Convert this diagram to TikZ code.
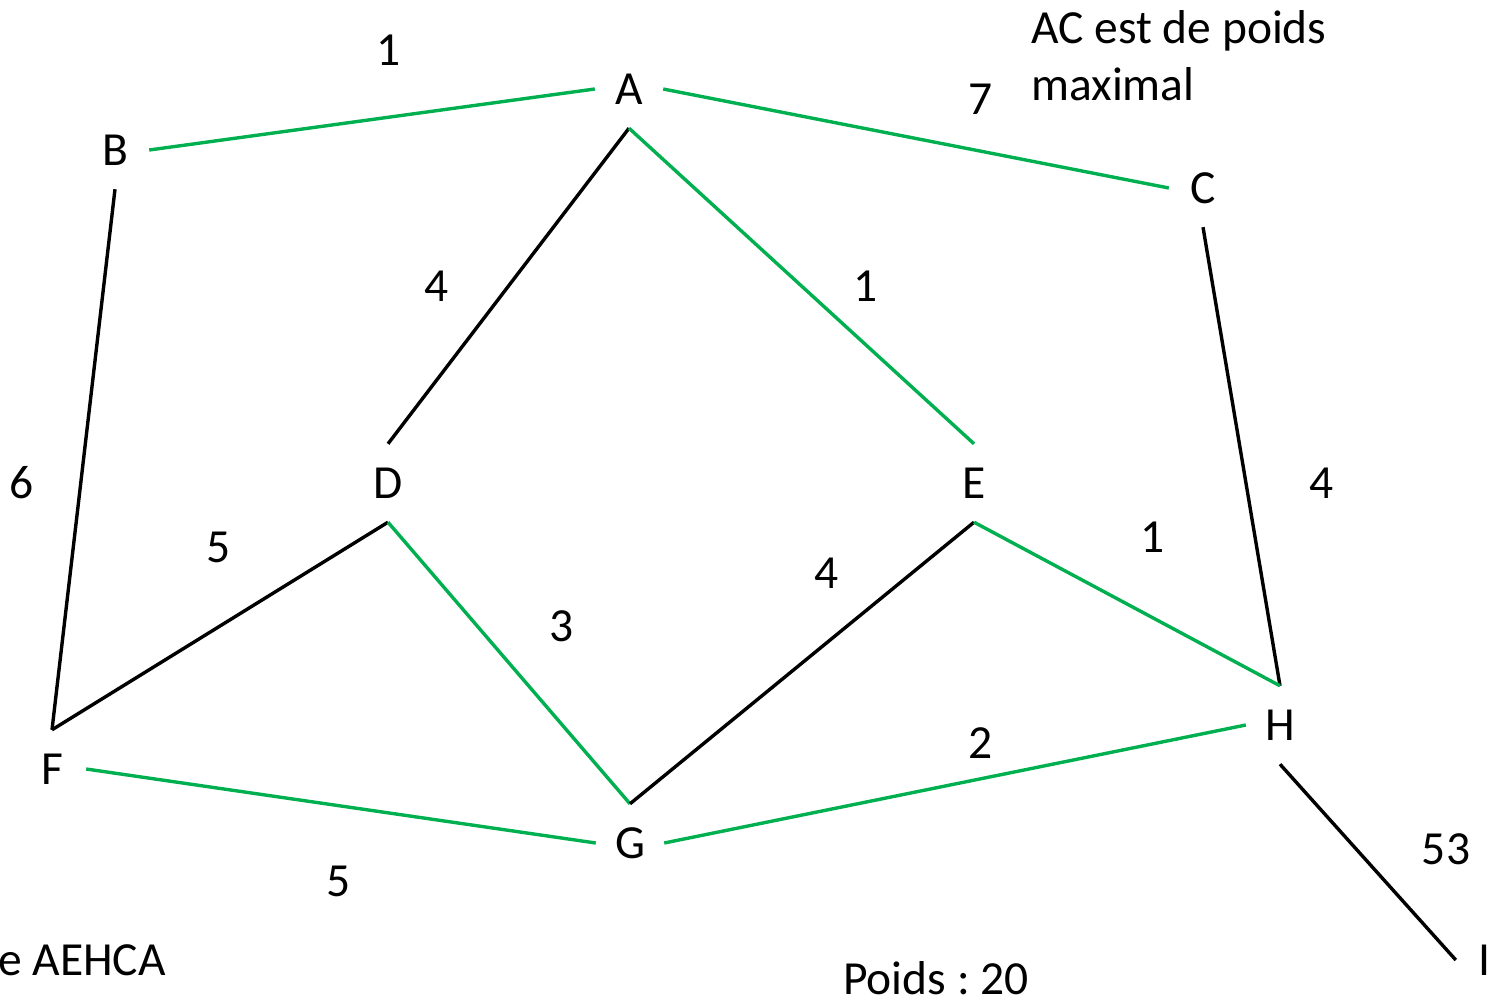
\documentclass[tikz,border=0pt]{standalone}
\usepackage{fontspec}
\setmainfont{Carlito}
\definecolor{grn}{RGB}{0,176,80}
\begin{document}
\begin{tikzpicture}[x=1pt,y=-1pt,
  txt/.style={inner sep=0pt, font=\fontsize{47.5}{57}\selectfont},
  vtx/.style={txt, minimum width=68pt, minimum height=78pt},
  wt/.style={txt},
  gedge/.style={draw=grn, line width=3.4pt},
  bedge/.style={draw=black, line width=3.4pt}]
\useasboundingbox (0,0) rectangle (1490,1001);
% vertices
\node[vtx] (A) at (629,89) {A};
\node[vtx] (B) at (115,150) {B};
\node[vtx] (C) at (1203,188) {C};
\node[vtx] (D) at (388,483) {D};
\node[vtx] (E) at (974,483) {E};
\node[vtx] (F) at (52,769) {F};
\node[vtx] (G) at (630,843) {G};
\node[vtx] (H) at (1280,725) {H};
\node[vtx, minimum width=56pt] (I) at (1484,960) {I};
% edges
\draw[gedge] (B.east) -- (A.west);
\draw[gedge] (A.east) -- (C.west);
\draw[bedge] (A.south) -- (D.north);
\draw[gedge] (A.south) -- (E.north);
\draw[bedge] (B.south) -- (F.north);
\draw[bedge] (C.south) -- (H.north);
\draw[bedge] (D.south) -- (F.north);
\draw[gedge] (D.south) -- (G.north);
\draw[bedge] (E.south) -- (G.north);
\draw[gedge] (E.south) -- (H.north);
\draw[gedge] (F.east) -- (G.west);
\draw[gedge] (G.east) -- (H.west);
\draw[bedge] (H.south) -- (I.west);
% weights
\node[wt] (wBA) at (389,50) {1};
\node[wt] (wAC) at (981,99) {7};
\node[wt] (wAD) at (437,286) {4};
\node[wt] (wAE) at (866,286) {1};
\node[wt] (wBF) at (22,483) {6};
\node[wt] (wDF) at (219,547) {5};
\node[wt] (wDG) at (562,626) {3};
\node[wt] (wEG) at (827,573) {4};
\node[wt] (wEH) at (1153,537) {1};
\node[wt] (wCH) at (1322,483) {4};
\node[wt] (wGH) at (981,743) {2};
\node[wt] (wFG) at (339,881) {5};
\node[wt] (wHI) at (1446,849) {53};
% notes
\node[txt, anchor=base west] (n1) at (1031,43) {AC est de poids};
\node[txt, anchor=base west] (n2) at (1031,100) {maximal};
\node[txt, anchor=base west] (n3) at (-2,975) {e AEHCA};
\node[txt, anchor=base] (n4) at (936,994) {Poids~:~20};
\end{tikzpicture}
\end{document}
